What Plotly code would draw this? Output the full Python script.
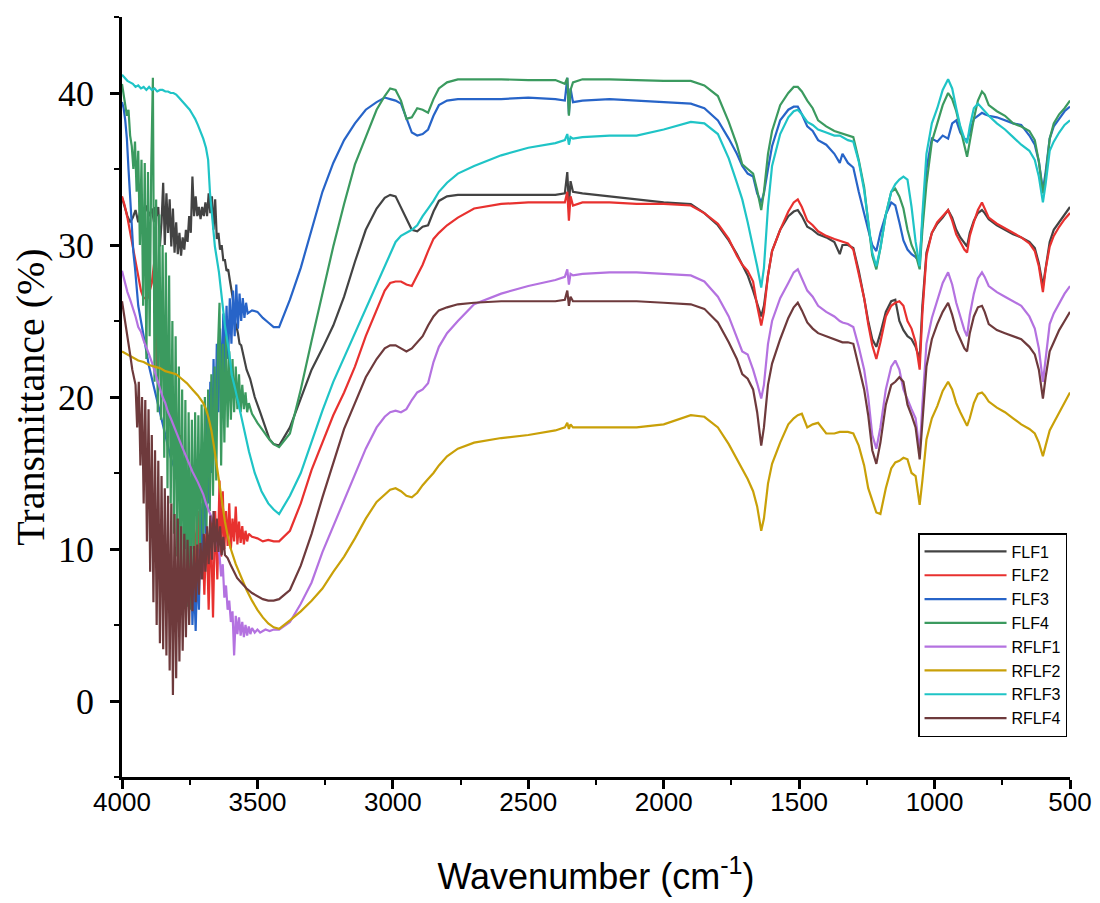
import plotly.graph_objects as go

# ---------------- data ----------------
SERIES_NAMES = ["FLF1", "FLF2", "FLF3", "FLF4", "RFLF1", "RFLF2", "RFLF3", "RFLF4"]

# shared wavenumber sampling (cm-1) for the region below 3440
GRID_WN = [3420, 3380, 3340, 3300, 3260, 3220, 3180, 3140, 3100, 3060,
           3030, 3010, 2990, 2970, 2950, 2930, 2910, 2890, 2870, 2850,
           2830, 2800, 2760, 2700, 2600, 2500, 2400, 2365, 2356, 2350,
           2344, 2335, 2300, 2200, 2100, 2000, 1900, 1850, 1800, 1760,
           1730, 1710, 1690, 1670, 1655, 1640, 1630, 1615, 1600, 1570,
           1540, 1520, 1505, 1490, 1470, 1450, 1430, 1400, 1370, 1350,
           1340, 1320, 1300, 1280, 1260, 1245, 1230, 1215, 1200, 1180,
           1160, 1145, 1130, 1115, 1100, 1085, 1070, 1055, 1045, 1030,
           1010, 990, 970, 950, 935, 920, 905, 890, 880, 870,
           855, 840, 825, 815, 800, 770, 740, 710, 680, 650,
           630, 615, 600, 590, 575, 560, 540, 520, 500]

# ---- FLF1 ----
FLF1_HEAD_WN = [4000, 3990, 3980, 3970, 3960, 3950, 3940, 3930, 3920, 3910, 3900, 3890, 3882] \
    + list(range(3878, 3559, -6)) + [3550, 3540, 3527, 3510, 3490, 3470, 3455, 3440]
FLF1_HEAD_T = [33.1, 32.5, 31.9, 31.5, 31.8, 32.3, 31.5, 32.5, 31.8, 32.6, 31.9, 32.4, 31.5,
               32.5, 31.9, 32.5, 29.9, 31.5, 34.1, 30.0, 33.4, 30.8, 33.0,
               29.9, 32.4, 29.5, 31.5, 29.4, 30.8, 29.3, 30.5, 29.7, 31.0,
               30.2, 31.9, 30.8, 34.5, 31.9, 33.2, 31.9, 32.5, 31.7, 32.5,
               31.9, 32.8, 31.9, 33.4, 32.1, 33.2, 31.0, 33.0, 30.4, 30.8,
               29.7, 30.0, 29.0, 29.0, 28.3, 28.4, 27.7, 27.0, 26.4, 25.0,
               24.7, 24.2, 23.5, 23.4,
               22.5, 21.8, 21.2, 20.0, 19.0, 18.0, 17.2, 16.9]
FLF1_T = [16.8, 18.0, 19.9, 21.8, 23.2, 24.7, 26.6, 28.9, 31.0, 32.4,
          33.1, 33.3, 33.2, 32.5, 31.7, 31.0, 30.9, 31.2, 31.3, 32.2,
          32.9, 33.2, 33.3, 33.3, 33.3, 33.3, 33.3, 33.4, 34.8, 32.6,
          34.2, 33.5, 33.4, 33.2, 33.0, 32.8, 32.7, 32.1, 31.3, 30.3,
          29.4, 28.7, 28.0, 27.0, 26.1, 25.3, 26.0, 28.0, 29.6, 31.0,
          31.9, 32.2, 32.3, 31.9, 31.2, 31.0, 30.7, 30.5, 30.2, 29.4,
          30.0, 30.0, 29.8, 28.3, 26.5, 25.0, 23.8, 23.3, 24.2, 25.6,
          26.3, 26.4, 25.0, 24.4, 24.0, 23.8, 23.3, 22.5, 26.0, 29.5,
          30.8, 31.4, 31.8, 32.3, 31.8, 31.0, 30.5, 30.1, 29.9, 30.8,
          31.6, 32.1, 32.3, 32.1, 31.7, 31.3, 31.0, 30.7, 30.5, 30.2,
          29.8, 28.8, 27.3, 28.6, 30.2, 31.0, 31.5, 32.0, 32.5]

# ---- FLF2 ----
FLF2_HEAD_WN = [4000, 3990, 3980, 3970, 3960, 3950, 3940, 3930, 3920, 3905, 3890] \
    + list(range(3880, 3635, -8)) + list(range(3634, 3531, -6)) + [3520, 3500, 3480, 3460, 3440]
FLF2_HEAD_T = [33.2, 32.6, 31.8, 30.8, 29.8, 28.8, 27.8, 27.0, 26.5, 26.5, 27.5,
               29.0, 22.0, 28.5, 21.0, 25.0, 20.0, 23.0, 19.0, 21.0, 17.5,
               19.0, 15.0, 17.5, 13.0, 16.0, 11.0, 14.5, 10.0, 13.5, 9.0,
               12.5, 8.0, 12.0, 7.0, 11.5, 6.0, 12.0, 5.5, 12.5, 8.0,
               14.5,
               9.5, 13.8, 10.0, 12.5, 10.2, 13.0, 10.0, 12.0, 10.5, 12.8,
               10.3, 11.8, 10.4, 11.5, 10.3, 11.2, 10.5, 11.0,
               10.8, 10.7, 10.5, 10.6, 10.5]
FLF2_T = [10.5, 11.2, 13.0, 15.2, 17.0, 18.8, 20.3, 22.0, 24.0, 25.7,
          27.0, 27.5, 27.6, 27.6, 27.4, 27.3, 28.0, 28.7, 29.6, 30.4,
          30.8, 31.3, 31.8, 32.4, 32.7, 32.8, 32.8, 32.8, 33.5, 31.6,
          33.2, 32.6, 32.8, 32.8, 32.7, 32.7, 32.6, 32.1, 31.4, 30.4,
          29.3, 28.7, 28.3, 27.6, 26.0, 24.7, 25.6, 28.0, 29.6, 31.0,
          32.2, 32.8, 33.0, 32.5, 31.6, 31.3, 30.9, 30.6, 30.4, 30.3,
          30.2, 30.1, 29.7, 28.2, 26.5, 24.8, 23.4, 22.5, 23.6, 25.3,
          26.0, 26.2, 26.3, 26.0, 25.0, 24.5, 23.6, 21.8, 25.5, 29.3,
          30.8, 31.5, 31.9, 32.3, 31.6, 30.7, 30.2, 29.7, 29.5, 30.6,
          31.5, 32.3, 32.8, 32.4, 31.8, 31.4, 31.1, 30.8, 30.5, 30.1,
          29.6, 28.6, 26.9, 28.4, 29.9, 30.6, 31.2, 31.7, 32.1]

# ---- FLF3 ----
FLF3_HEAD_WN = [4000, 3994, 3988, 3982, 3976, 3970, 3964, 3958, 3952, 3946, 3940, 3930, 3915,
                3900, 3880, 3860, 3840, 3820, 3800, 3790, 3780, 3770] \
    + list(range(3764, 3535, -6)) + [3520, 3500, 3480, 3460, 3440]
FLF3_HEAD_T = [39.4, 39.0, 38.2, 37.0, 35.0, 33.0, 31.0, 29.5, 28.5, 27.2, 26.0, 25.0, 23.5,
               22.0, 20.5, 19.0, 17.5, 16.0, 15.0, 16.5, 13.5, 14.5,
               10.0, 13.0, 7.0, 11.0, 5.0, 8.0, 4.6, 9.0, 6.0, 13.0,
               8.5, 17.0, 11.0, 19.0, 13.0, 21.0, 15.0, 22.5, 17.0, 23.5,
               19.0, 24.5, 20.5, 25.5, 21.5, 26.0, 22.5, 26.5, 23.5, 27.0,
               24.0, 27.4, 24.5, 26.8, 25.0, 26.5, 25.2, 26.2, 25.5,
               25.7, 25.6, 25.2, 24.9, 24.6]
FLF3_T = [24.6, 26.4, 28.5, 31.0, 33.5, 35.4, 36.9, 38.0, 38.9, 39.4,
          39.7, 39.6, 39.5, 39.3, 38.3, 37.4, 37.2, 37.3, 37.6, 38.5,
          39.2, 39.5, 39.6, 39.6, 39.6, 39.7, 39.6, 39.5, 41.0, 38.6,
          40.3, 39.4, 39.5, 39.6, 39.5, 39.4, 39.3, 39.0, 38.2, 37.0,
          36.0, 35.2, 34.7, 34.5, 33.4, 32.8, 33.4, 35.0, 36.5, 38.2,
          38.9, 39.1, 39.1, 38.6, 37.8, 37.5, 36.9, 36.6, 36.0, 35.4,
          36.0, 35.4, 35.1, 33.5, 32.0, 31.0, 30.0, 29.6, 30.8, 32.0,
          32.8, 32.6, 31.5, 30.3, 29.7, 29.4, 29.2, 28.9, 31.5, 35.0,
          37.0, 36.8, 37.2, 37.0, 38.0, 38.2, 37.4, 37.0, 36.9, 37.4,
          38.3, 38.5, 38.7, 38.6, 38.5, 38.4, 38.2, 38.0, 37.9, 37.2,
          36.6, 35.5, 33.6, 34.8, 37.0, 37.8, 38.3, 38.8, 39.1]

# ---- FLF4 ----
FLF4_HEAD_WN = list(range(4000, 3531, -6)) + [3520, 3500, 3480, 3460, 3440]
FLF4_HEAD_T = [40.6, 40.0, 39.2, 38.5, 38.9, 37.2, 36.5, 35.0, 36.8, 33.5,
               36.2, 30.0, 35.6, 26.0, 35.4, 22.5, 34.8, 24.0, 35.2, 41.0,
               21.0, 33.0, 19.0, 32.0, 18.5, 30.0, 16.0, 29.5, 14.0, 28.0,
               13.0, 25.0, 11.0, 24.0, 9.5, 22.0, 8.5, 20.5, 7.0, 19.8,
               6.2, 19.0, 6.0, 18.5, 8.5, 19.0, 9.5, 18.8, 10.0, 19.5,
               11.0, 20.0, 11.5, 20.5, 12.5, 21.5, 13.5, 22.0, 14.5, 23.0,
               26.2, 15.5, 23.5, 17.0, 24.0, 18.0, 23.0, 18.5, 22.5, 19.0,
               22.0, 19.2, 21.5, 19.0, 20.8, 19.2, 20.3, 19.0, 19.6,
               18.9, 18.3, 17.8, 17.3, 16.9]
FLF4_T = [16.7, 17.6, 20.5, 23.7, 26.8, 29.9, 32.7, 35.3, 37.1, 38.9,
          39.8, 40.3, 40.2, 39.5, 38.3, 38.4, 39.0, 38.9, 38.7, 39.6,
          40.3, 40.7, 40.9, 40.9, 40.9, 40.85, 40.85, 40.6, 41.0, 38.5,
          40.2, 40.7, 40.9, 40.9, 40.85, 40.8, 40.8, 40.5, 39.8, 38.1,
          36.6, 35.3, 35.0, 34.7, 33.6, 32.3, 33.5, 36.0, 37.5, 39.2,
          40.0, 40.4, 40.4, 40.1, 39.5, 39.0, 38.2, 37.8, 37.5, 37.4,
          37.3, 37.2, 37.1, 35.6, 33.8, 31.5, 29.3, 28.4, 29.8, 32.0,
          33.5, 33.7, 33.2, 32.4, 31.0, 30.0, 29.4, 28.4, 31.0, 34.0,
          36.8, 38.0, 39.2, 40.0, 39.6, 38.8, 37.6, 36.5, 35.8, 36.8,
          38.3, 39.5, 40.1, 39.9, 39.2, 38.8, 38.5, 38.0, 37.8, 37.5,
          36.9, 35.5, 33.4, 34.5, 37.0, 38.0, 38.6, 39.0, 39.5]

# ---- RFLF1 ----
RFLF1_HEAD_WN = [4000, 3990, 3980, 3970, 3960, 3950, 3940, 3930, 3920, 3910,
                 3900, 3890, 3880, 3870, 3860, 3850, 3840, 3830, 3820, 3810,
                 3800, 3780, 3760, 3740, 3720, 3710, 3700, 3690, 3680, 3670,
                 3660, 3652] + list(range(3646, 3519, -6)) + [3510, 3500, 3490, 3480, 3470, 3455, 3440]
RFLF1_HEAD_T = [28.3, 27.6, 26.9, 26.4, 25.9, 25.3, 24.6, 24.3, 23.7, 23.3,
                22.8, 22.3, 21.7, 21.1, 20.6, 20.0, 19.6, 19.0, 18.6, 18.1,
                17.7, 16.8, 15.9, 15.1, 14.4, 14.0, 13.6, 13.0, 12.6, 12.1,
                11.4, 10.8,
                10.2, 9.6, 8.2, 9.0, 6.8, 7.6, 6.0, 6.6, 5.2, 5.9,
                3.0, 5.6, 4.4, 5.5, 4.3, 5.2, 4.2, 5.0, 4.3, 4.9,
                4.4, 4.8,
                4.5, 4.7, 4.5, 4.6, 4.7, 4.6, 4.7]
RFLF1_T = [4.7, 5.2, 6.4, 7.8, 9.8, 11.5, 13.1, 14.8, 16.6, 18.0,
           18.7, 19.0, 19.1, 19.0, 19.2, 19.8, 20.3, 20.5, 20.9, 22.3,
           23.3, 24.2, 25.0, 26.1, 26.8, 27.3, 27.7, 27.9, 28.4, 27.4,
           28.1, 28.0, 28.1, 28.2, 28.2, 28.1, 28.0, 27.6, 26.6, 25.3,
           23.9, 23.0, 22.8, 21.8, 20.9, 19.9, 20.8, 23.5, 25.0, 26.5,
           27.5, 28.2, 28.4, 27.8, 27.0, 26.6, 26.0, 25.6, 25.3, 25.0,
           24.9, 24.8, 24.6, 23.3, 21.8, 20.0, 17.5, 16.6, 18.0, 20.5,
           22.0, 22.4, 21.8, 20.5, 19.8, 19.2, 18.6, 16.4, 19.5, 23.5,
           25.2, 26.4, 27.5, 28.2, 27.4, 26.2, 25.3, 24.4, 24.0, 25.4,
           26.8, 27.8, 28.2, 27.9, 27.3, 26.9, 26.6, 26.3, 26.0, 25.3,
           24.5, 23.2, 21.0, 22.5, 24.8, 25.5, 26.2, 26.8, 27.3]

# ---- RFLF2 ----
RFLF2_HEAD_WN = [4000, 3980, 3960, 3940, 3920, 3900, 3880, 3860, 3840, 3820,
                 3800, 3780, 3760, 3740, 3720, 3700, 3690, 3680, 3670, 3660,
                 3650, 3640, 3630, 3620, 3610, 3600, 3580, 3560, 3540, 3520,
                 3500, 3480, 3460, 3440]
RFLF2_HEAD_T = [23.0, 22.8, 22.6, 22.4, 22.3, 22.1, 22.0, 21.9, 21.7, 21.6,
                21.5, 21.2, 20.9, 20.5, 20.1, 19.6, 19.2, 18.6, 17.8, 16.7,
                15.5, 14.2, 12.9, 11.8, 10.9, 10.1, 9.0, 8.1, 7.3, 6.6,
                6.0, 5.5, 5.1, 4.85]
RFLF2_T = [4.75, 5.3, 5.9, 6.6, 7.4, 8.5, 9.5, 10.7, 12.0, 13.1,
           13.6, 13.9, 14.0, 13.8, 13.5, 13.4, 13.7, 14.2, 14.6, 15.0,
           15.5, 16.1, 16.6, 17.0, 17.3, 17.5, 17.8, 18.0, 18.3, 17.9,
           18.2, 18.0, 18.0, 18.0, 18.0, 18.2, 18.8, 18.7, 18.0, 16.9,
           15.9, 15.2, 14.6, 13.8, 12.8, 11.2, 12.0, 14.3, 15.6, 17.0,
           18.2, 18.6, 18.8, 18.9, 18.0, 18.2, 18.3, 17.6, 17.6, 17.7,
           17.7, 17.7, 17.6, 16.8, 15.5, 14.0, 13.2, 12.4, 12.3, 14.0,
           15.3, 15.7, 15.8, 16.0, 15.9, 15.0, 14.8, 12.9, 14.5, 17.2,
           18.6, 19.4, 20.4, 21.0, 20.5, 19.6, 19.0, 18.4, 18.1, 18.6,
           19.6, 20.2, 20.3, 20.1, 19.7, 19.3, 19.0, 18.6, 18.2, 17.9,
           17.6, 17.0, 16.1, 16.8, 17.8, 18.3, 19.0, 19.7, 20.3]

# ---- RFLF3 ----
RFLF3_HEAD_WN = [4000, 3990, 3980, 3970, 3960, 3950, 3940, 3930, 3920, 3910,
                 3900, 3890, 3880, 3870, 3860, 3850, 3840, 3830, 3820, 3810,
                 3800, 3790, 3780, 3770, 3760, 3750, 3740, 3730, 3720, 3710,
                 3700, 3690, 3682, 3675, 3665, 3657, 3642, 3631, 3620, 3605,
                 3594, 3583, 3570, 3557, 3544, 3531, 3510, 3485, 3460, 3440]
RFLF3_HEAD_T = [41.2, 41.0, 40.8, 40.7, 40.6, 40.4, 40.5, 40.3, 40.4, 40.2,
                40.4, 40.2, 40.3, 40.1, 40.2, 40.2, 40.1, 40.1, 40.0, 40.0,
                39.9, 39.7, 39.5, 39.3, 39.1, 38.9, 38.6, 38.3, 37.9, 37.5,
                37.0, 36.4, 35.6, 33.4, 31.3, 29.9, 28.2, 26.4, 24.7, 23.0,
                21.4, 20.6, 19.5, 18.4, 17.4, 16.4, 15.0, 13.8, 13.0, 12.6]
RFLF3_T = [12.3, 13.5, 15.0, 17.1, 19.1, 21.0, 22.6, 24.2, 25.8, 27.4,
           28.6, 29.4, 30.2, 30.6, 30.8, 31.0, 31.3, 31.9, 32.4, 32.9,
           33.5, 34.1, 34.7, 35.2, 35.9, 36.4, 36.7, 36.9, 37.3, 36.6,
           37.1, 37.0, 37.1, 37.2, 37.2, 37.6, 38.1, 38.0, 37.3, 35.7,
           34.1, 33.0, 31.5, 29.9, 28.6, 27.2, 28.5, 32.5, 35.2, 37.3,
           38.4, 38.8, 38.9, 38.6, 38.1, 37.9, 37.6, 37.4, 37.2, 37.2,
           37.1, 36.9, 36.8, 35.5, 33.6, 31.5, 29.5, 28.6, 29.8, 32.0,
           33.5, 34.0, 34.3, 34.5, 34.3, 32.5, 30.2, 28.6, 32.0, 36.0,
           38.0, 39.0, 40.2, 40.9, 40.3, 39.0, 37.8, 37.0, 36.7, 37.8,
           39.0, 39.3, 39.0, 38.8, 38.5, 38.0, 37.6, 37.1, 36.6, 36.2,
           35.6, 34.5, 32.8, 34.0, 36.2, 36.8, 37.4, 37.9, 38.2]

# ---- RFLF4 ----
RFLF4_HEAD_WN = [4000, 3990, 3980, 3970, 3962, 3956] + list(range(3950, 3619, -6)) \
    + [3610, 3600, 3590, 3575, 3560, 3540, 3520, 3500, 3480, 3460, 3440]
RFLF4_HEAD_T = [26.3, 25.2, 24.0, 22.8, 21.8, 21.2,
                20.8, 18.0, 21.0, 15.5, 20.0, 13.0, 19.8, 10.5, 19.2, 8.5,
                17.5, 6.5, 16.5, 5.0, 15.8, 3.8, 14.8, 3.4, 14.0, 3.0,
                13.5, 2.0, 13.0, 0.4, 12.3, 1.5, 12.0, 2.6, 11.5, 3.3,
                11.0, 4.2, 10.6, 5.0, 10.2, 5.9, 10.2, 6.5, 10.3, 7.0,
                10.4, 8.0, 11.0, 8.5, 11.5, 9.0, 12.2, 9.3, 12.5, 9.8,
                12.0, 9.8, 11.5, 9.6, 10.8, 9.6,
                9.4, 9.0, 8.6, 8.1, 7.8, 7.4, 7.1, 6.9, 6.7, 6.6, 6.6]
RFLF4_T = [6.7, 7.3, 8.9, 11.0, 13.4, 15.7, 17.9, 19.6, 21.3, 22.5,
           23.2, 23.4, 23.4, 23.2, 23.0, 23.2, 23.6, 24.0, 24.7, 25.3,
           25.7, 25.9, 26.1, 26.2, 26.3, 26.3, 26.3, 26.4, 27.0, 26.0,
           26.6, 26.3, 26.3, 26.3, 26.3, 26.2, 26.1, 25.8, 24.9, 23.6,
           22.5, 21.5, 21.2, 20.5, 19.0, 16.8, 18.0, 20.8, 22.2, 23.8,
           25.2, 25.9, 26.2, 25.7, 24.9, 24.5, 24.2, 24.0, 23.8, 23.7,
           23.6, 23.6, 23.5, 22.0, 20.5, 18.8, 16.5, 15.6, 17.0, 19.5,
           20.8, 21.0, 21.3, 21.0, 19.5, 18.8, 18.0, 15.9, 18.5, 22.0,
           23.8, 24.8, 25.6, 26.2, 25.4, 24.4, 23.8, 23.2, 23.0, 24.2,
           25.3, 25.9, 26.0, 25.6, 24.8, 24.4, 24.2, 24.0, 23.8, 23.3,
           22.8, 21.8, 19.9, 21.3, 23.0, 23.6, 24.4, 25.0, 25.6]

X_TICKS = [4000, 3500, 3000, 2500, 2000, 1500, 1000, 500]
Y_TICKS = [0, 10, 20, 30, 40]

# ---------------- styles ----------------
COLORS = {
    "FLF1": "#434343", "FLF2": "#e8312f", "FLF3": "#2764c8", "FLF4": "#3b9a5f",
    "RFLF1": "#b472e0", "RFLF2": "#c9a008", "RFLF3": "#1fc4c6", "RFLF4": "#6e3a3c",
}

DATA = {
    "FLF1": (FLF1_HEAD_WN, FLF1_HEAD_T, FLF1_T),
    "FLF2": (FLF2_HEAD_WN, FLF2_HEAD_T, FLF2_T),
    "FLF3": (FLF3_HEAD_WN, FLF3_HEAD_T, FLF3_T),
    "FLF4": (FLF4_HEAD_WN, FLF4_HEAD_T, FLF4_T),
    "RFLF1": (RFLF1_HEAD_WN, RFLF1_HEAD_T, RFLF1_T),
    "RFLF2": (RFLF2_HEAD_WN, RFLF2_HEAD_T, RFLF2_T),
    "RFLF3": (RFLF3_HEAD_WN, RFLF3_HEAD_T, RFLF3_T),
    "RFLF4": (RFLF4_HEAD_WN, RFLF4_HEAD_T, RFLF4_T),
}

fig = go.Figure()
for name in SERIES_NAMES:
    hw, ht, gt = DATA[name]
    assert len(hw) == len(ht), (name, len(hw), len(ht))
    assert len(gt) == len(GRID_WN), (name, len(gt))
    fig.add_trace(go.Scatter(
        x=hw + GRID_WN, y=ht + gt, mode="lines", name=name,
        line=dict(color=COLORS[name], width=2.2),
    ))

# the page body adds an 8 px offset, so the figure is 8 px smaller and shifted
fig.update_layout(
    width=1092, height=895,
    margin=dict(l=114, r=30, t=9, b=126, autoexpand=False),
    paper_bgcolor="white", plot_bgcolor="white",
    showlegend=True,
    legend=dict(
        x=0.8397, y=0.321, xanchor="left", yanchor="top",
        bgcolor="white", bordercolor="black", borderwidth=1.5,
        font=dict(family="Liberation Sans, Arial", size=16, color="black"),
        itemwidth=82,
    ),
)
fig.update_xaxes(
    range=[4000, 500], tickvals=X_TICKS, automargin=False,
    showline=True, linecolor="black", linewidth=2.5, mirror=False,
    ticks="outside", ticklen=9, tickwidth=2.5, tickcolor="black",
    minor=dict(dtick=250, tick0=500, ticks="outside", ticklen=5, tickwidth=2, tickcolor="black"),
    showgrid=False, zeroline=False,
    ticklabelstandoff=-9,
    tickfont=dict(family="Liberation Sans, Arial", size=26, color="black"),
    title=dict(text="Wavenumber (cm<sup>-1</sup>)", standoff=48,
               font=dict(family="Liberation Sans, Arial", size=36, color="black")),
)
fig.update_yaxes(
    range=[-5, 45], tickvals=Y_TICKS, automargin=False,
    showline=True, linecolor="black", linewidth=2.5, mirror=False,
    ticks="outside", ticklen=9, tickwidth=2.5, tickcolor="black",
    minor=dict(dtick=5, tick0=0, ticks="outside", ticklen=5, tickwidth=2, tickcolor="black"),
    showgrid=False, zeroline=False,
    ticklabelstandoff=9,
    tickfont=dict(family="Liberation Serif, Times New Roman", size=36, color="black"),
    title=dict(text="Transmittance (%)", standoff=4,
               font=dict(family="Liberation Serif, Times New Roman", size=40, color="black")),
)

fig.write_html("out.html")
